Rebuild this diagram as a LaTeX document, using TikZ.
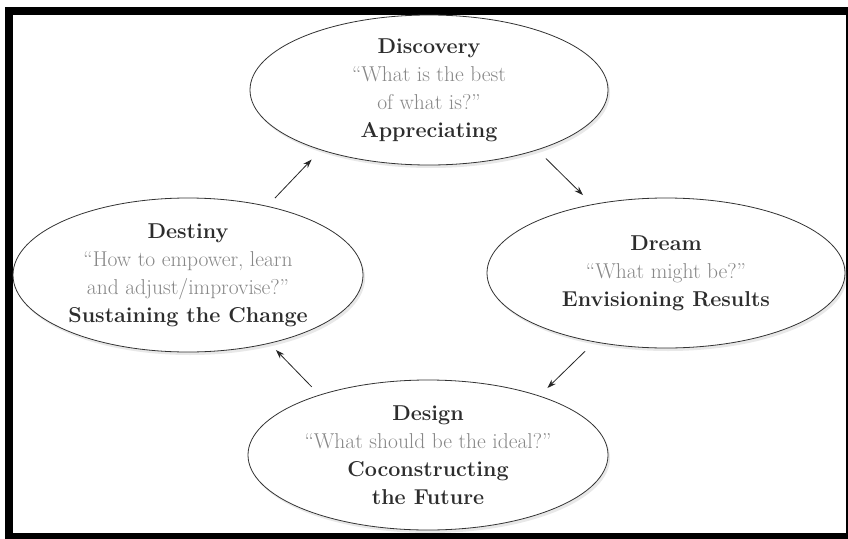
\documentclass[tikz,border=0pt]{standalone}
\usepackage{tikz}
\usetikzlibrary{arrows.meta,shapes.geometric,shadows}

\definecolor{titlegray}{RGB}{45,45,45}
\definecolor{quotegray}{RGB}{135,135,135}

\tikzset{
  phase/.style={ellipse, draw=black!80, line width=0.8pt, fill=white,
    minimum width=358pt, minimum height=150pt, inner sep=0pt,
    drop shadow={opacity=0.18, shadow xshift=2pt, shadow yshift=-3pt},
    align=center, font=\fontsize{21.5}{28}\selectfont},
  flow/.style={-{Stealth[length=9pt,width=6pt]}, line width=0.8pt, black!85},
}
\newcommand{\phasetitle}[1]{\textcolor{titlegray}{\bfseries #1}}
\newcommand{\phasequote}[1]{\textcolor{quotegray}{#1}}

\begin{document}
\begin{tikzpicture}[x=1pt,y=-1pt]
    \useasboundingbox (0,0) rectangle (848,538);
    \fill[white] (0,0) rectangle (848,538);
    \draw[line width=8pt] (9,11) rectangle (850,537);

    \node[phase] (discovery) at (429,90)
        {\phasetitle{Discovery}\\ \phasequote{``What is the best}\\ \phasequote{of what is?''}\\ \phasetitle{Appreciating}};
    \node[phase] (dream) at (666,273)
        {\phasetitle{Dream}\\ \phasequote{``What might be?''}\\ \phasetitle{Envisioning Results}};
    \node[phase, minimum width=350pt, minimum height=154pt] (destiny) at (188,275)
        {\phasetitle{Destiny}\\ \phasequote{``How to empower, learn}\\ \phasequote{and adjust/improvise?''}\\ \phasetitle{Sustaining the Change}};
    \node[phase, minimum width=360pt] (design) at (428,455)
        {\phasetitle{Design}\\ \phasequote{``What should be the ideal?''}\\ \phasetitle{Coconstructing}\\ \phasetitle{the Future}};

    % the cycle
    \draw[flow, shorten <=11pt, shorten >=13pt] (destiny.41) -- (discovery.209);
    \draw[flow, shorten <=12pt, shorten >=13pt] (discovery.-29) -- (dream.137);
    \draw[flow, shorten <=13pt, shorten >=11pt] (dream.224) -- (design.28);
    \draw[flow, shorten <=11pt, shorten >=9pt] (design.151) -- (destiny.-40);
\end{tikzpicture}
\end{document}
